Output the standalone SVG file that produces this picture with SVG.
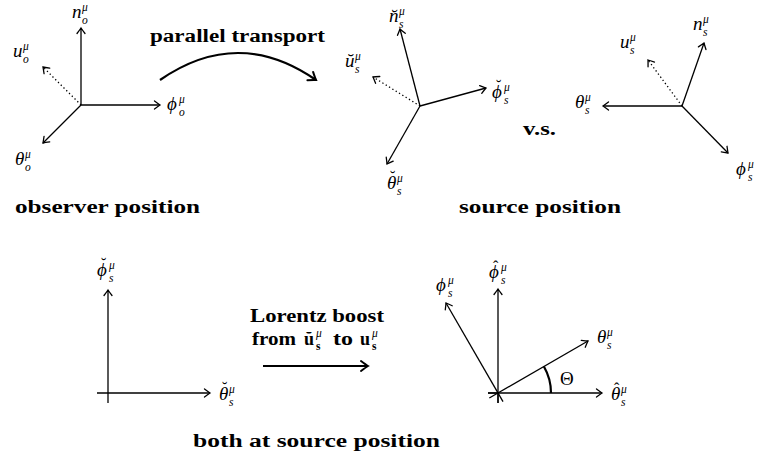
<svg xmlns="http://www.w3.org/2000/svg" width="758" height="463" viewBox="0 0 758 463">
<style>
  .ax { fill: none; stroke: #000; stroke-width: 1.3; marker-end: url(#arr); }
  .ln { fill: none; stroke: #000; stroke-width: 1.3; }
  .dot { fill: none; stroke: #000; stroke-width: 1.3; stroke-dasharray: 1.3 2.6; marker-end: url(#arr); }
  .thick { fill: none; stroke: #000; stroke-width: 2.2; marker-end: url(#arrT); }
  .m { font-family: "Liberation Serif", "DejaVu Serif", serif; font-style: italic; font-size: 19px; fill: #000; }
  .up { font-family: "Liberation Serif", "DejaVu Serif", serif; font-size: 19px; fill: #000; }
  .s { font-family: "Liberation Serif", "DejaVu Serif", serif; font-style: italic; font-weight: normal; font-size: 11.5px; }
  .acc { font-family: "Liberation Serif", "DejaVu Serif", serif; font-style: normal; font-weight: normal; font-size: 16px; }
  .b { font-family: "Liberation Serif", "DejaVu Serif", serif; font-weight: bold; font-size: 18px; fill: #000; }
  .bs { font-family: "Liberation Serif", "DejaVu Serif", serif; font-style: normal; font-weight: bold; font-size: 11.5px; }
</style>
<defs>
  <marker id="arr" markerUnits="userSpaceOnUse" markerWidth="14" markerHeight="14" refX="0" refY="0" orient="auto" overflow="visible">
    <path d="M-5.5,-4 Q-1.5,-1 0,0 Q-1.5,1 -5.5,4" fill="none" stroke="#000" stroke-width="1.3" stroke-linecap="round"/>
  </marker>
  <marker id="arrT" markerUnits="userSpaceOnUse" markerWidth="16" markerHeight="16" refX="0" refY="0" orient="auto" overflow="visible">
    <path d="M-7,-5 Q-2,-1.2 0,0 Q-2,1.2 -7,5" fill="none" stroke="#000" stroke-width="2" stroke-linecap="round"/>
  </marker>
</defs>

<g id="connectors">
  <path class="thick" d="M160,80 Q238,26 316,80"/>
  <path class="thick" d="M263,366 L368,366"/>
</g>

<g id="observer-frame">
  <path class="ax" d="M81,105 L81,28"/>
  <path class="ax" d="M81,105 L160,105"/>
  <path class="ax" d="M81,105 L43,143"/>
  <path class="dot" d="M81,105 L43,67"/>
  <text class="m" x="72" y="18">n<tspan class="s" x="82" y="11">μ</tspan><tspan class="s" x="82" y="24">o</tspan></text>
  <text class="m" x="13" y="57">u<tspan class="s" x="23" y="50">μ</tspan><tspan class="s" x="23" y="63">o</tspan></text>
  <text class="m" x="167" y="110">ϕ<tspan class="s" x="179" y="103">μ</tspan><tspan class="s" x="179" y="116">o</tspan></text>
  <text class="m" x="15" y="165">θ<tspan class="s" x="25" y="158">μ</tspan><tspan class="s" x="25" y="171">o</tspan></text>
  <text class="b" x="15" y="213" textLength="185" lengthAdjust="spacingAndGlyphs">observer position</text>
</g>

<g id="parallel-transport-label">
  <text class="b" x="150" y="42" textLength="175" lengthAdjust="spacingAndGlyphs">parallel transport</text>
</g>

<g id="transported-frame">
  <path class="ax" d="M420,106 L400,29"/>
  <path class="ax" d="M420,106 L486,88"/>
  <path class="ax" d="M420,106 L387,164"/>
  <path class="dot" d="M420,106 L373,77"/>
  <text class="m" x="389" y="22">n&#x306;<tspan class="s" x="399" y="15">μ</tspan><tspan class="s" x="399" y="28">s</tspan></text>
  <text class="m" x="345" y="67">u&#x306;<tspan class="s" x="355" y="60">μ</tspan><tspan class="s" x="355" y="73">s</tspan></text>
  <text class="m" x="492" y="98">ϕ<tspan class="acc" x="496" y="91">˘</tspan><tspan class="s" x="504" y="91">μ</tspan><tspan class="s" x="504" y="104">s</tspan></text>
  <text class="m" x="387" y="189">θ<tspan class="acc" x="390" y="182">˘</tspan><tspan class="s" x="397" y="182">μ</tspan><tspan class="s" x="397" y="195">s</tspan></text>
</g>

<g id="vs-label">
  <text class="b" x="523" y="135" textLength="33" lengthAdjust="spacingAndGlyphs">v.s.</text>
  <text class="b" x="459" y="213" textLength="162" lengthAdjust="spacingAndGlyphs">source position</text>
</g>

<g id="source-frame">
  <path class="ax" d="M682,106 L704,43"/>
  <path class="ax" d="M682,106 L603,106"/>
  <path class="ax" d="M682,106 L728,153"/>
  <path class="dot" d="M682,106 L648,60"/>
  <text class="m" x="693" y="30">n<tspan class="s" x="703" y="23">μ</tspan><tspan class="s" x="703" y="36">s</tspan></text>
  <text class="m" x="620" y="48">u<tspan class="s" x="630" y="41">μ</tspan><tspan class="s" x="630" y="54">s</tspan></text>
  <text class="m" x="575" y="108">θ<tspan class="s" x="585" y="101">μ</tspan><tspan class="s" x="585" y="114">s</tspan></text>
  <text class="m" x="736" y="175">ϕ<tspan class="s" x="748" y="168">μ</tspan><tspan class="s" x="748" y="181">s</tspan></text>
</g>

<g id="breve-frame-2d">
  <path class="ax" d="M108,403 L108,290"/>
  <path class="ax" d="M97,393 L210,393"/>
  <text class="m" x="97" y="276">ϕ<tspan class="acc" x="101" y="269">˘</tspan><tspan class="s" x="109" y="269">μ</tspan><tspan class="s" x="109" y="282">s</tspan></text>
  <text class="m" x="219" y="400">θ<tspan class="acc" x="222" y="393">˘</tspan><tspan class="s" x="229" y="393">μ</tspan><tspan class="s" x="229" y="406">s</tspan></text>
</g>

<g id="lorentz-label">
  <text class="b" x="250" y="322" textLength="134" lengthAdjust="spacingAndGlyphs">Lorentz boost</text>
  <text class="b" y="345"><tspan x="252" textLength="44" lengthAdjust="spacingAndGlyphs">from</tspan><tspan x="304">u&#x306;</tspan><tspan class="s" x="316" y="337">μ</tspan><tspan class="bs" x="316" y="350">s</tspan><tspan x="333" y="345" textLength="20" lengthAdjust="spacingAndGlyphs">to</tspan><tspan x="360">u</tspan><tspan class="s" x="372" y="337">μ</tspan><tspan class="bs" x="372" y="350">s</tspan></text>
</g>

<g id="hat-frame-2d">
  <path class="ln" d="M498,403 L498,393"/>
  <path class="ln" d="M488,393 L498,393"/>
  <path class="ax" d="M498,403 L498,289"/>
  <path class="ax" d="M488,393 L602,393"/>
  <path class="ax" d="M489.3,398 L588,341"/>
  <path class="ax" d="M503,401.7 L446,303"/>
  <path d="M551,393 A53,53 0 0 0 543.9,366.5" fill="none" stroke="#000" stroke-width="2.2"/>
  <text class="m" x="489" y="278">ϕ<tspan class="acc" x="493" y="272">ˆ</tspan><tspan class="s" x="501" y="271">μ</tspan><tspan class="s" x="501" y="284">s</tspan></text>
  <text class="m" x="436" y="291">ϕ<tspan class="s" x="448" y="284">μ</tspan><tspan class="s" x="448" y="297">s</tspan></text>
  <text class="m" x="597" y="343">θ<tspan class="s" x="607" y="336">μ</tspan><tspan class="s" x="607" y="349">s</tspan></text>
  <text class="m" x="611" y="400">θ<tspan class="acc" x="614" y="394">ˆ</tspan><tspan class="s" x="621" y="393">μ</tspan><tspan class="s" x="621" y="406">s</tspan></text>
  <text class="up" x="560" y="385">Θ</text>
</g>

<g id="bottom-caption">
  <text class="b" x="193" y="447" textLength="247" lengthAdjust="spacingAndGlyphs">both at source position</text>
</g>
</svg>
